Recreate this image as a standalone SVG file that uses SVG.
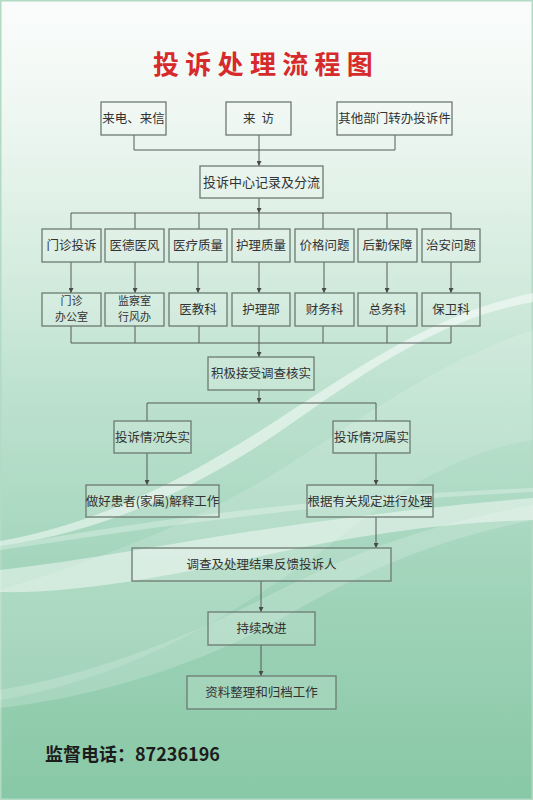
<svg xmlns="http://www.w3.org/2000/svg" width="533" height="800" viewBox="0 0 533 800">
<defs>
<linearGradient id="bg" x1="0" y1="0" x2="0" y2="1">
<stop offset="0" stop-color="#fafcfb"/>
<stop offset="0.12" stop-color="#f1f8f4"/>
<stop offset="0.3" stop-color="#daeee3"/>
<stop offset="0.5" stop-color="#bce1ce"/>
<stop offset="0.75" stop-color="#9fd3b8"/>
<stop offset="1" stop-color="#88c8a6"/>
</linearGradient>
<marker id="arr" viewBox="0 0 6 6" refX="6" refY="3" markerWidth="5" markerHeight="5" markerUnits="userSpaceOnUse" orient="auto">
<path d="M0,0 L6,3 L0,6 Z" fill="#4a4a4a"/>
</marker>
<style>
.box{fill:#ffffff;fill-opacity:0.14;stroke:#6c7a71;stroke-width:1.3}
.t{font-family:"Noto Sans CJK SC","Noto Sans",sans-serif;font-size:12.5px;fill:#333333;text-anchor:middle}
.t2{font-family:"Noto Sans CJK SC","Noto Sans",sans-serif;font-size:11px;fill:#333333;text-anchor:middle}
.ln{fill:none;stroke:#555b57;stroke-width:1}
.ar{fill:none;stroke:#555b57;stroke-width:1;marker-end:url(#arr)}
.wave{fill:#ffffff}
</style>
</defs>
<rect x="0" y="0" width="533" height="800" fill="url(#bg)"/>
<rect x="0.75" y="0.75" width="531.5" height="798.5" fill="none" stroke="#b2dac4" stroke-width="1.5"/>
<g id="waves">
<path class="wave" opacity="0.14" d="M533,330 C440,360 360,420 280,470 C200,520 100,560 0,590 L0,700 C120,680 230,620 330,545 C410,480 470,450 533,440 Z"/>
<path class="wave" opacity="0.5" d="M533,293 C440,312 370,360 300,405 C220,458 120,520 0,541 L0,546 C130,528 230,468 305,414 C380,362 450,316 533,302 Z"/>
<path class="wave" opacity="0.28" d="M0,546 C150,520 320,496 533,488 L533,492 C320,502 150,528 0,550 Z"/>
<path class="wave" opacity="0.45" d="M0,570 C90,560 160,545 260,530 C360,515 450,505 533,498 L533,520 C450,522 360,535 280,552 C180,574 80,594 0,592 Z"/>
<path class="wave" opacity="0.18" d="M0,690 C90,675 180,640 260,600 C330,565 400,530 533,505 L533,520 C410,545 340,585 270,625 C190,668 90,698 0,708 Z"/>
</g>
<text x="153" y="74" font-family="'Noto Sans CJK SC','Noto Sans',sans-serif" font-size="26" font-weight="bold" fill="#d62a2b" letter-spacing="6.3">投诉处理流程图</text>
<g id="connectors">
<path class="ln" d="M134,135 V150 H395 V135"/>
<path class="ar" d="M259,135 V166"/>
<path class="ar" d="M259,198 V213"/>
<path class="ln" d="M71,229 V213 H451 V229 M135,213 V229 M199,213 V229 M259,213 V229 M323,213 V229 M387,213 V229"/>
<path class="ar" d="M71,262 V293"/>
<path class="ar" d="M135,262 V293"/>
<path class="ar" d="M198,262 V293"/>
<path class="ar" d="M259,262 V293"/>
<path class="ar" d="M324,262 V293"/>
<path class="ar" d="M387,262 V293"/>
<path class="ar" d="M451,262 V293"/>
<path class="ln" d="M71,326 V343 H451 V326 M135,326 V343 M199,326 V343 M323,326 V343 M387,326 V343"/>
<path class="ar" d="M259,326 V357"/>
<path class="ar" d="M259,390 V403"/>
<path class="ln" d="M147,421 V403 H376 V421"/>
<path class="ar" d="M147,453 V485"/>
<path class="ar" d="M376,453 V485"/>
<path class="ar" d="M376,517 V548"/>
<path class="ar" d="M261,581 V612"/>
<path class="ar" d="M261,645 V676"/>
</g>
<g id="n1"><rect class="box" x="101" y="102" width="65" height="33"/><text class="t" x="133.5" y="123">来电、来信</text></g>
<g id="n2"><rect class="box" x="226" y="102" width="65" height="33"/><text class="t" x="258.5" y="123">来<tspan dx="6">访</tspan></text></g>
<g id="n3"><rect class="box" x="337" y="102" width="115" height="33"/><text class="t" x="394.5" y="123">其他部门转办投诉件</text></g>
<g id="n4"><rect class="box" x="200" y="166" width="123" height="32"/><text class="t" x="261.5" y="186.5" style="font-size:13px">投诉中心记录及分流</text></g>
<g id="a1"><rect class="box" x="42" y="229" width="59" height="33"/><text class="t" x="71.5" y="250">门诊投诉</text></g>
<g id="a2"><rect class="box" x="105" y="229" width="59" height="33"/><text class="t" x="134.5" y="250">医德医风</text></g>
<g id="a3"><rect class="box" x="169" y="229" width="58" height="33"/><text class="t" x="198" y="250">医疗质量</text></g>
<g id="a4"><rect class="box" x="232" y="229" width="58" height="33"/><text class="t" x="261" y="250">护理质量</text></g>
<g id="a5"><rect class="box" x="295" y="229" width="59" height="33"/><text class="t" x="324.5" y="250">价格问题</text></g>
<g id="a6"><rect class="box" x="358" y="229" width="59" height="33"/><text class="t" x="387.5" y="250">后勤保障</text></g>
<g id="a7"><rect class="box" x="422" y="229" width="58" height="33"/><text class="t" x="451" y="250">治安问题</text></g>
<g id="b1"><rect class="box" x="42" y="293" width="59" height="33"/><text class="t2" x="71.5" y="305"><tspan x="71.5">门诊</tspan><tspan x="71.5" dy="16">办公室</tspan></text></g>
<g id="b2"><rect class="box" x="105" y="293" width="59" height="33"/><text class="t2" x="134.5" y="305"><tspan x="134.5">监察室</tspan><tspan x="134.5" dy="16">行风办</tspan></text></g>
<g id="b3"><rect class="box" x="169" y="293" width="58" height="33"/><text class="t" x="198" y="314">医教科</text></g>
<g id="b4"><rect class="box" x="232" y="293" width="58" height="33"/><text class="t" x="261" y="314">护理部</text></g>
<g id="b5"><rect class="box" x="295" y="293" width="59" height="33"/><text class="t" x="324.5" y="314">财务科</text></g>
<g id="b6"><rect class="box" x="358" y="293" width="59" height="33"/><text class="t" x="387.5" y="314">总务科</text></g>
<g id="b7"><rect class="box" x="422" y="293" width="58" height="33"/><text class="t" x="451" y="314">保卫科</text></g>
<g id="n5"><rect class="box" x="208" y="357" width="106" height="33"/><text class="t" x="261" y="378">积极接受调查核实</text></g>
<g id="n6"><rect class="box" x="114" y="421" width="77" height="32"/><text class="t" x="152.5" y="441.5">投诉情况失实</text></g>
<g id="n7"><rect class="box" x="333" y="421" width="77" height="32"/><text class="t" x="371.5" y="441.5">投诉情况属实</text></g>
<g id="n8"><rect class="box" x="86" y="485" width="133" height="32"/><text class="t" x="152.5" y="505.5">做好患者(家属)解释工作</text></g>
<g id="n9"><rect class="box" x="307" y="485" width="126" height="32"/><text class="t" x="370" y="505.5">根据有关规定进行处理</text></g>
<g id="n10"><rect class="box" x="132" y="548" width="259" height="33"/><text class="t" x="261.5" y="569">调查及处理结果反馈投诉人</text></g>
<g id="n11"><rect class="box" x="208" y="612" width="107" height="33"/><text class="t" x="261.5" y="633">持续改进</text></g>
<g id="n12"><rect class="box" x="187" y="676" width="149" height="33"/><text class="t" x="261.5" y="697">资料整理和归档工作</text></g>
<text x="45" y="761" font-family="'Noto Sans CJK SC','Noto Sans',sans-serif" font-size="18" font-weight="bold" fill="#1c1c1c">监督电话：87236196</text>
</svg>
